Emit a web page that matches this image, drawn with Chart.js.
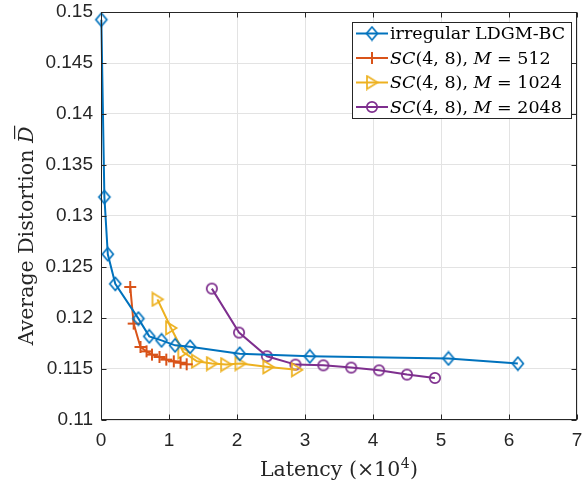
<!DOCTYPE html>
<html>
<head>
<meta charset="utf-8">
<script src="https://cdn.jsdelivr.net/npm/chart.js@4/dist/chart.umd.min.js"></script>
<style>
  html, body { margin: 0; padding: 0; background: #ffffff; }
  canvas { display: block; }
</style>
</head>
<body>
<canvas id="chart" width="585" height="481"></canvas>
<script>
// Axis ticks
const xTicks = [0, 1, 2, 3, 4, 5, 6, 7];
const xTickLabels = ['0', '1', '2', '3', '4', '5', '6', '7'];
const yTicks = [0.11, 0.115, 0.12, 0.125, 0.13, 0.135, 0.14, 0.145, 0.15];
const yTickLabels = ['0.11', '0.115', '0.12', '0.125', '0.13', '0.135', '0.14', '0.145', '0.15'];

// Latency (x 10^4) and average distortion per scheme
const ldgmLatency = [0.005, 0.05, 0.10, 0.21, 0.55, 0.71, 0.89, 1.09, 1.31, 2.04, 3.07, 5.11, 6.13];
const ldgmDistortion = [0.14925, 0.13186, 0.12625, 0.12335, 0.11994, 0.11820, 0.11781, 0.11732, 0.11718, 0.11649, 0.11624, 0.11603, 0.11553];

const sc512Latency = [0.43, 0.48, 0.58, 0.67, 0.75, 0.86, 0.96, 1.07, 1.17, 1.26];
const sc512Distortion = [0.12304, 0.11945, 0.11716, 0.11673, 0.11641, 0.11618, 0.11592, 0.11575, 0.11562, 0.11546];

const sc1024Latency = [0.83, 1.03, 1.21, 1.41, 1.63, 1.84, 2.05, 2.46, 2.88];
const sc1024Distortion = [0.12183, 0.11902, 0.11667, 0.11576, 0.11553, 0.11543, 0.11553, 0.11520, 0.11492];

const sc2048Latency = [1.63, 2.03, 2.44, 2.86, 3.27, 3.68, 4.09, 4.50, 4.91];
const sc2048Distortion = [0.12288, 0.11857, 0.11625, 0.11543, 0.11536, 0.11514, 0.11487, 0.11445, 0.11412];

// Legend text: [text, italic] runs
const legendLabels = [
  [['irregular LDGM-BC', false]],
  [['SC', true], ['(4, 8), ', false], ['M', true], [' = 512', false]],
  [['SC', true], ['(4, 8), ', false], ['M', true], [' = 1024', false]],
  [['SC', true], ['(4, 8), ', false], ['M', true], [' = 2048', false]]
];

const COLORS = ['#0072BD', '#D95319', '#EDB120', '#7E2F8E'];
const AXIS_COLOR = '#262626';
const SERIF = '"DejaVu Serif", "Liberation Serif", serif';
const SANS = '"Liberation Sans", Arial, sans-serif';

// Marker sprites (unfilled, MATLAB style)
function makeMarker(kind, color) {
  const c = document.createElement('canvas');
  c.width = 16; c.height = 16;
  const g = c.getContext('2d');
  g.strokeStyle = color;
  g.lineWidth = 1.7;
  g.lineJoin = 'miter';
  g.beginPath();
  if (kind === 'diamond') {
    g.moveTo(8, 1.5); g.lineTo(13.5, 8); g.lineTo(8, 14.5); g.lineTo(2.5, 8); g.closePath();
  } else if (kind === 'plus') {
    g.lineWidth = 2;
    g.moveTo(2, 8); g.lineTo(14, 8);
    g.moveTo(8, 2); g.lineTo(8, 14);
  } else if (kind === 'triangle') {
    g.moveTo(3, 1.6); g.lineTo(13.5, 8); g.lineTo(3, 14.4); g.closePath();
  } else {
    g.arc(8, 8, 5.2, 0, Math.PI * 2);
  }
  g.stroke();
  return c;
}
const markerKinds = ['diamond', 'plus', 'triangle', 'circle'];
const markers = markerKinds.map((k, i) => makeMarker(k, COLORS[i]));

function toPoints(xs, ys) { return xs.map((x, i) => ({ x: x, y: ys[i] })); }

const seriesData = [
  toPoints(ldgmLatency, ldgmDistortion),
  toPoints(sc512Latency, sc512Distortion),
  toPoints(sc1024Latency, sc1024Distortion),
  toPoints(sc2048Latency, sc2048Distortion)
];

const datasets = seriesData.map((pts, i) => ({
  data: pts,
  showLine: true,
  borderColor: COLORS[i],
  backgroundColor: COLORS[i],
  borderWidth: 2,
  tension: 0,
  pointStyle: markers[i],
  pointRadius: 6,
  pointHoverRadius: 6,
  clip: false
}));

// Box with inward ticks on all four sides
const framePlugin = {
  id: 'frame',
  afterDatasetsDraw(chart) {
    const { ctx, chartArea: a, scales } = chart;
    ctx.save();
    ctx.strokeStyle = AXIS_COLOR;
    ctx.lineWidth = 1;
    const L = Math.round(a.left) + 0.5, R = Math.round(a.right) - 0.5;
    const T = Math.round(a.top) + 0.5, B = Math.round(a.bottom) - 0.5;
    ctx.strokeRect(L, T, R - L, B - T);
    const tl = 5;
    ctx.beginPath();
    xTicks.forEach(v => {
      const px = Math.round(scales.x.getPixelForValue(v)) + 0.5;
      ctx.moveTo(px, B); ctx.lineTo(px, B - tl);
      ctx.moveTo(px, T); ctx.lineTo(px, T + tl);
    });
    yTicks.forEach(v => {
      const py = Math.round(scales.y.getPixelForValue(v)) + 0.5;
      ctx.moveTo(L, py); ctx.lineTo(L + tl, py);
      ctx.moveTo(R, py); ctx.lineTo(R - tl, py);
    });
    ctx.stroke();
    ctx.restore();
  }
};

// Axis titles with superscript / overbar
const titlesPlugin = {
  id: 'titles',
  afterDraw(chart) {
    const { ctx, chartArea: a } = chart;
    ctx.save();
    ctx.fillStyle = AXIS_COLOR;
    ctx.textBaseline = 'alphabetic';
    const fs = 20.5;
    const supFs = 14;
    // x title: Latency (×10^4)
    const main = 'Latency (\u00D710';
    ctx.font = fs + 'px ' + SERIF;
    const w1 = ctx.measureText(main).width;
    ctx.font = supFs + 'px ' + SERIF;
    const w2 = ctx.measureText('4').width;
    ctx.font = fs + 'px ' + SERIF;
    const w3 = ctx.measureText(')').width;
    const total = w1 + w2 + 1 + w3;
    const x = (a.left + a.right) / 2 - total / 2;
    const base = 476;
    ctx.fillText(main, x, base);
    ctx.font = supFs + 'px ' + SERIF;
    ctx.fillText('4', x + w1 + 0.5, base - 8);
    ctx.font = fs + 'px ' + SERIF;
    ctx.fillText(')', x + w1 + w2 + 1, base);

    // y title: Average Distortion D-bar
    ctx.save();
    ctx.translate(33, 236);
    ctx.rotate(-Math.PI / 2);
    const t1 = 'Average Distortion ';
    ctx.font = fs + 'px ' + SERIF;
    const a1 = ctx.measureText(t1).width;
    ctx.font = 'italic ' + fs + 'px ' + SERIF;
    const a2 = ctx.measureText('D').width;
    const sx = -(a1 + a2) / 2;
    ctx.font = fs + 'px ' + SERIF;
    ctx.fillText(t1, sx, 0);
    ctx.font = 'italic ' + fs + 'px ' + SERIF;
    ctx.fillText('D', sx + a1, 0);
    ctx.fillRect(sx + a1 + 4, -19, a2 - 3, 1.2);
    ctx.restore();
    ctx.restore();
  }
};

// Legend box in the upper-right corner
const legendPlugin = {
  id: 'legendBox',
  afterDraw(chart) {
    const { ctx } = chart;
    const box = { x: 352, y: 22, w: 219, h: 96 };
    const rows = [33.5, 58, 82.5, 107];
    const fs = 17.5;
    ctx.save();
    ctx.fillStyle = '#ffffff';
    ctx.fillRect(box.x, box.y, box.w, box.h);
    ctx.strokeStyle = AXIS_COLOR;
    ctx.lineWidth = 1;
    ctx.strokeRect(box.x + 0.5, box.y + 0.5, box.w, box.h);
    legendLabels.forEach((runs, i) => {
      const y = rows[i];
      ctx.strokeStyle = COLORS[i];
      ctx.lineWidth = 2;
      ctx.beginPath();
      ctx.moveTo(356, y); ctx.lineTo(388, y);
      ctx.stroke();
      const m = markers[i];
      ctx.drawImage(m, 372 - m.width / 2, y - m.height / 2);
      let tx = 390;
      ctx.fillStyle = '#000000';
      ctx.textBaseline = 'middle';
      runs.forEach(([text, italic]) => {
        ctx.font = (italic ? 'italic ' : '') + fs + 'px ' + SERIF;
        ctx.fillText(text, tx, y + 1);
        tx += ctx.measureText(text).width;
      });
    });
    ctx.restore();
  }
};

new Chart(document.getElementById('chart'), {
  type: 'scatter',
  data: { datasets },
  options: {
    responsive: false,
    animation: false,
    devicePixelRatio: 1,
    layout: { padding: { top: 12, right: 8, left: 0, bottom: 0 } },
    plugins: { legend: { display: false }, tooltip: { enabled: false } },
    scales: {
      x: {
        type: 'linear',
        min: 0, max: 7,
        afterBuildTicks: s => { s.ticks = xTicks.map(v => ({ value: v })); },
        afterFit: s => { s.height = 61; s.paddingLeft = 0; s.paddingRight = 0; },
        grid: { color: '#e3e3e3', lineWidth: 1, drawTicks: false },
        border: { display: false },
        ticks: {
          padding: 9,
          color: AXIS_COLOR,
          font: { family: SANS, size: 19 },
          maxRotation: 0,
          callback: (v, i) => xTickLabels[i]
        }
      },
      y: {
        type: 'linear',
        min: 0.11, max: 0.15,
        afterBuildTicks: s => { s.ticks = yTicks.map(v => ({ value: v })); },
        afterFit: s => { s.width = 101; s.paddingTop = 0; s.paddingBottom = 0; },
        grid: { color: '#e3e3e3', lineWidth: 1, drawTicks: false },
        border: { display: false },
        ticks: {
          padding: 8,
          color: AXIS_COLOR,
          font: { family: SANS, size: 19 },
          callback: (v, i) => yTickLabels[i]
        }
      }
    }
  },
  plugins: [framePlugin, titlesPlugin, legendPlugin]
});
</script>
</body>
</html>
